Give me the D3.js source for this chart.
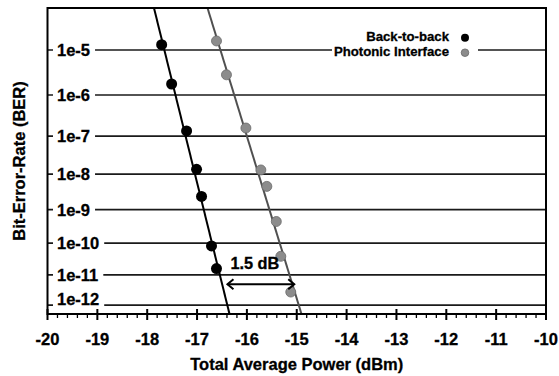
<!DOCTYPE html>
<html>
<head>
<meta charset="utf-8">
<script src="https://cdn.jsdelivr.net/npm/d3@7"></script>
<style>
  html, body { margin: 0; padding: 0; background: #fff; }
  svg { display: block; font-family: "Liberation Sans", Arial, Helvetica, sans-serif; font-weight: bold; }
  svg text { stroke: #000; stroke-width: 0.3px; }
</style>
</head>
<body>
<svg id="chart" width="559" height="376"></svg>
<script>
// ---------- data ----------
const seriesNames = ["Back-to-back", "Photonic Interface"];
const powerBtb = [-17.71, -17.51, -17.21, -17.01, -16.91, -16.71, -16.61];
const berBtb   = [1.3e-5, 1.8e-6, 1.35e-7, 1.35e-8, 2.4e-9, 8.2e-11, 1.6e-11];
const powerPI  = [-16.61, -16.41, -16.02, -15.72, -15.60, -15.41, -15.32, -15.12];
const berPI    = [1.55e-5, 2.9e-6, 1.6e-7, 1.3e-8, 4.6e-9, 4.5e-10, 3.9e-11, 2.75e-12];
// fitted lines: power at top and bottom of BER domain
const berDomain = [7e-5, 5e-13];
const fitBtbPower = [-17.864, -16.349];
const fitPIPower  = [-16.79, -14.905];
const yTickBER    = [1e-5, 1e-6, 1e-7, 1e-8, 1e-9, 1e-10, 1e-11, 1e-12];
const yTickLabels = ["1e-5", "1e-6", "1e-7", "1e-8", "1e-9", "1e-10", "1e-11", "1e-12"];
const xTicks      = [-20, -19, -18, -17, -16, -15, -14, -13, -12, -11, -10];
const xTickLabels = ["-20", "-19", "-18", "-17", "-16", "-15", "-14", "-13", "-12", "-11", "-10"];
const arrowPower  = [-16.39, -15.05];
const arrowBER    = 5e-12;
const arrowLabel  = "1.5 dB";
const xTitle = "Total Average Power (dBm)";
const yTitle = "Bit-Error-Rate (BER)";

(function () {
// ---------- Q-scale helpers ----------
function erfc(v) {
  const z = Math.abs(v);
  const t = 1 / (1 + 0.5 * z);
  const r = t * Math.exp(-z*z - 1.26551223 + t*(1.00002368 + t*(0.37409196 + t*(0.09678418 +
            t*(-0.18628806 + t*(0.27886807 + t*(-1.13520398 + t*(1.48851587 +
            t*(-0.82215223 + t*0.17087277)))))))));
  return v >= 0 ? r : 2 - r;
}
function qOf(ber) {
  let lo = 0, hi = 12;
  for (let i = 0; i < 80; i++) {
    const mid = (lo + hi) / 2;
    if (0.5 * erfc(mid / Math.SQRT2) > ber) lo = mid; else hi = mid;
  }
  return (lo + hi) / 2;
}

// ---------- layout ----------
const pL = 47.5, pR = 546, pT = 8, pB = 314;
const svg = d3.select("#chart");
const x = d3.scaleLinear().domain([-20, -10]).range([pL, pR]);
const yQ = d3.scaleLinear().domain(berDomain.map(qOf)).range([pT, pB]);
const y = ber => yQ(qOf(ber));

// gridlines
const grid = svg.append("g");
yTickBER.forEach((b) => {
  grid.append("line")
    .attr("x1", pL).attr("x2", pR)
    .attr("y1", y(b)).attr("y2", y(b))
    .attr("stroke", "#1a1a1a").attr("stroke-width", 1.6);
});

// y tick labels with white background
const labG = svg.append("g");
yTickBER.forEach((b, i) => {
  const yy = y(b);
  const last = i === yTickBER.length - 1;
  const base = last ? yy : yy + 6;
  const t = labG.append("text")
    .attr("x", 57).attr("y", base)
    .attr("font-size", 16.5)
    .attr("fill", "#000")
    .text(yTickLabels[i]);
  const w = t.node().getComputedTextLength();
  labG.insert("rect", "text")
    .attr("x", 53).attr("y", base - 14)
    .attr("width", 57 + w + 5 - 53).attr("height", 17)
    .attr("fill", "#fff");
});

// legend
const legG = svg.append("g");
legG.append("rect").attr("x", 332).attr("y", 27).attr("width", 146).attr("height", 34).attr("fill", "#fff");
legG.append("text").attr("x", 449).attr("y", 41).attr("text-anchor", "end")
  .attr("font-size", 13.2).text(seriesNames[0]);
legG.append("text").attr("x", 449).attr("y", 56).attr("text-anchor", "end")
  .attr("font-size", 13.2).text(seriesNames[1]);
legG.append("circle").attr("cx", 465).attr("cy", 37.7).attr("r", 4).attr("fill", "#000");
legG.append("circle").attr("cx", 465).attr("cy", 52.7).attr("r", 3.8)
  .attr("fill", "#8c8c8c").attr("stroke", "#666").attr("stroke-width", 0.8);

// fit lines
const line = d3.line().x(d => x(d[0])).y(d => y(d[1]));
svg.append("path").datum(fitBtbPower.map((p, i) => [p, berDomain[i]]))
  .attr("d", line).attr("fill", "none").attr("stroke", "#000").attr("stroke-width", 2);
svg.append("path").datum(fitPIPower.map((p, i) => [p, berDomain[i]]))
  .attr("d", line).attr("fill", "none").attr("stroke", "#505050").attr("stroke-width", 2);

// points
svg.append("g").selectAll("circle").data(powerPI.map((p, i) => [p, berPI[i]]))
  .join("circle").attr("cx", d => x(d[0])).attr("cy", d => y(d[1])).attr("r", 5)
  .attr("fill", "#8c8c8c").attr("stroke", "#6a6a6a").attr("stroke-width", 0.8);
svg.append("g").selectAll("circle").data(powerBtb.map((p, i) => [p, berBtb[i]]))
  .join("circle").attr("cx", d => x(d[0])).attr("cy", d => y(d[1])).attr("r", 5.5)
  .attr("fill", "#000");

// arrow
const ay = y(arrowBER), ax1 = x(arrowPower[0]), ax2 = x(arrowPower[1]);
const arrG = svg.append("g").attr("stroke", "#000").attr("stroke-width", 2).attr("fill", "none");
arrG.append("line").attr("x1", ax1).attr("x2", ax2).attr("y1", ay).attr("y2", ay);
arrG.append("path").attr("d", `M${ax1+6},${ay-5}L${ax1},${ay}L${ax1+6},${ay+5}`);
arrG.append("path").attr("d", `M${ax2-6},${ay-5}L${ax2},${ay}L${ax2-6},${ay+5}`);
svg.append("text").attr("x", (ax1 + ax2) / 2 - 6).attr("y", ay - 15)
  .attr("text-anchor", "middle").attr("font-size", 16.3).text(arrowLabel);

// frame
svg.append("rect").attr("x", pL).attr("y", pT).attr("width", pR - pL).attr("height", pB - pT)
  .attr("fill", "none").attr("stroke", "#000").attr("stroke-width", 2);

// x ticks
const minor = d3.range(-20, -10.0001, 0.2).filter(v => Math.abs(v - Math.round(v)) > 1e-6);
svg.append("g").selectAll("line").data(minor).join("line")
  .attr("x1", d => x(d)).attr("x2", d => x(d)).attr("y1", pB).attr("y2", pB + 4)
  .attr("stroke", "#000").attr("stroke-width", 1.3);
svg.append("g").selectAll("line").data(xTicks).join("line")
  .attr("x1", d => x(d)).attr("x2", d => x(d)).attr("y1", pB - 5).attr("y2", pB + 6)
  .attr("stroke", "#000").attr("stroke-width", 2);
svg.append("g").selectAll("text").data(xTicks).join("text")
  .attr("x", d => x(d)).attr("y", 345).attr("text-anchor", "middle")
  .attr("font-size", 16.5).text((d, i) => xTickLabels[i]);

// titles
svg.append("text").attr("x", (pL + pR) / 2).attr("y", 370).attr("text-anchor", "middle")
  .attr("font-size", 16.5).text(xTitle);
svg.append("text").attr("transform", "translate(24.5,161) rotate(-90)").attr("text-anchor", "middle")
  .attr("font-size", 16.5).text(yTitle);
})();
</script>
</body>
</html>
